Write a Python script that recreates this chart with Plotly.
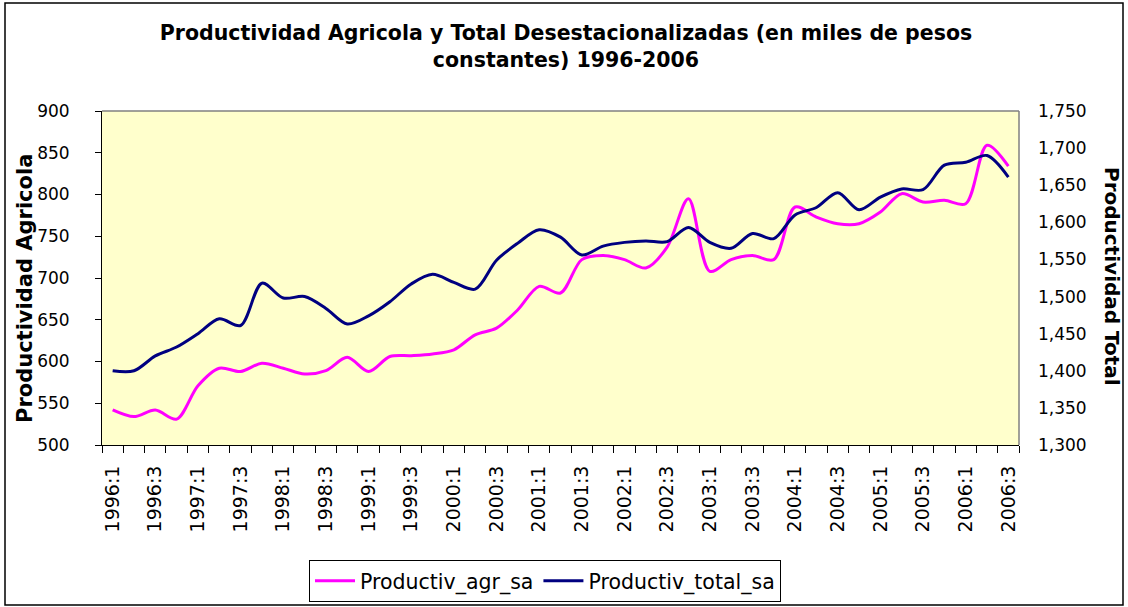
import plotly.graph_objects as go

quarters = [f"{y}:{q}" for y in range(1996, 2007) for q in range(1, 5)][:43]

agr_sa = [542, 534, 542, 531, 571, 592, 588, 598, 592, 585, 589, 605, 588, 606,
          607, 609, 614, 632, 640, 662, 690, 682, 722, 727, 722, 712, 737, 795,
          708, 722, 727, 722, 785, 773, 765, 765, 779, 801, 791, 793, 789, 859, 834]

total_sa = [1400, 1400, 1420, 1432, 1450, 1470, 1461, 1518, 1498, 1500, 1484, 1463,
            1474, 1493, 1517, 1530, 1519, 1510, 1549, 1572, 1590, 1580, 1556, 1568,
            1573, 1575, 1574, 1593, 1573, 1565, 1585, 1578, 1610, 1620, 1640, 1617,
            1634, 1645, 1644, 1677, 1681, 1690, 1661]

tick_text = [q if i % 2 == 0 else "" for i, q in enumerate(quarters)]

FONT = "DejaVu Sans"

W, H = 1128, 607
L, R, T, B = 102, 1019, 111, 445


def px_x(p):
    return (p - L) / (R - L)


def px_y(p):
    return (B - p) / (B - T)


fig = go.Figure()
fig.add_trace(go.Scatter(
    x=quarters, y=agr_sa, name="Productiv_agr_sa", mode="lines",
    line=dict(color="#FF00FF", width=3, shape="spline", smoothing=0.9),
    yaxis="y"))
fig.add_trace(go.Scatter(
    x=quarters, y=total_sa, name="Productiv_total_sa", mode="lines",
    line=dict(color="#000080", width=3, shape="spline", smoothing=0.9),
    yaxis="y2"))

fig.update_layout(
    width=W, height=H,
    margin=dict(l=L, r=W - R, t=T, b=H - B, autoexpand=False),
    paper_bgcolor="white",
    plot_bgcolor="#FFFFCC",
    font=dict(family=FONT, color="black"),
    title=dict(
        text="<b>Productividad Agricola y Total Desestacionalizadas (en miles de pesos<br>constantes) 1996-2006</b>",
        x=566 / W, xref="container", xanchor="center",
        y=1 - 40 / H, yref="container", yanchor="top",
        font=dict(family=FONT, size=20.5, color="black")),
    xaxis=dict(
        type="category", tickmode="array", tickvals=quarters, ticktext=tick_text,
        tickson="boundaries", ticks="outside", ticklen=7, tickcolor="black",
        tickangle=-90, tickfont=dict(family=FONT, size=19),
        ticklabelstandoff=12,
        showline=True, linecolor="black", linewidth=1,
        showgrid=False, zeroline=False, range=[-0.5, 42.5]),
    yaxis=dict(
        range=[500, 900], dtick=50, tick0=500, ticks="outside", ticklen=6,
        tickcolor="black", showline=True, linecolor="black", linewidth=1,
        showgrid=False, zeroline=False, tickfont=dict(family=FONT, size=17),
        ticklabelstandoff=22),
    yaxis2=dict(
        range=[1300, 1750], dtick=50, tick0=1300, overlaying="y", side="right",
        ticks="", showline=False, showgrid=False, zeroline=False,
        tickformat=",d", tickfont=dict(family=FONT, size=17),
        ticklabelstandoff=18),
    legend=dict(
        orientation="h", xref="container", yref="container",
        x=545 / W, xanchor="center", y=1 - 560 / H, yanchor="top",
        bordercolor="black", borderwidth=1, bgcolor="white",
        font=dict(family=FONT, size=20.5), itemwidth=40),
    annotations=[
        dict(text="<b>Productividad Agricola</b>", xref="paper", yref="paper",
             x=px_x(25), y=px_y(289), textangle=-90, showarrow=False,
             xanchor="center", yanchor="middle",
             font=dict(family=FONT, size=21, color="black")),
        dict(text="<b>Productividad Total</b>", xref="paper", yref="paper",
             x=px_x(1112), y=px_y(276), textangle=90, showarrow=False,
             xanchor="center", yanchor="middle",
             font=dict(family=FONT, size=20, color="black")),
    ],
    shapes=[
        dict(type="line", xref="paper", yref="paper", x0=0, x1=1, y0=1, y1=1,
             line=dict(color="#808080", width=1.5)),
        dict(type="line", xref="paper", yref="paper", x0=1, x1=1, y0=0, y1=1,
             line=dict(color="#808080", width=1.5)),
        dict(type="rect", xref="paper", yref="paper",
             x0=px_x(5), x1=px_x(1123), y0=px_y(605), y1=px_y(3),
             line=dict(color="black", width=1.5), fillcolor="rgba(0,0,0,0)"),
    ],
)

fig.write_html(
    "out.html",
    config={"displayModeBar": False},
    post_script="document.body.style.margin='0';document.body.style.overflow='hidden';",
)
